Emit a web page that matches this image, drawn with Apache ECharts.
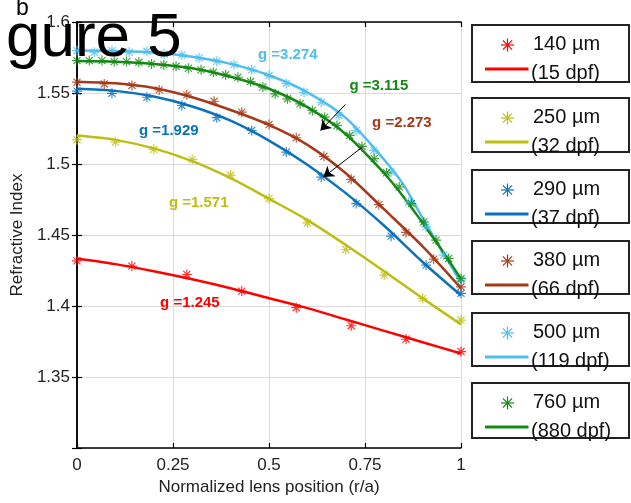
<!DOCTYPE html>
<html><head><meta charset="utf-8">
<script src="https://cdn.jsdelivr.net/npm/echarts@6/dist/echarts.min.js"></script>
<style>html,body{margin:0;padding:0;background:#fff}#c{width:631px;height:503px}</style>
</head><body><div id="c"></div>
<script>
// ---- data ----
const sizeLabels = ['140 µm', '250 µm', '290 µm', '380 µm', '500 µm', '760 µm'];
const dpfLabels  = ['(15 dpf)', '(32 dpf)', '(37 dpf)', '(66 dpf)', '(119 dpf)', '(880 dpf)'];
const gLabels    = ['g =1.245', 'g =1.571', 'g =1.929', 'g =2.273', 'g =3.274', 'g =3.115'];
const colors     = ['#FF0000', '#BDBD12', '#0A72BD', '#A53A1A', '#4DBEEE', '#138A13'];

// measured points (asterisks)
const red_mx = [0, 0.143, 0.286, 0.429, 0.571, 0.714, 0.857, 1];
const red_my = [1.4318, 1.4281, 1.4222, 1.4105, 1.3988, 1.3861, 1.3766, 1.3679];
const yel_mx = [0, 0.1, 0.2, 0.3, 0.4, 0.5, 0.6, 0.7, 0.8, 0.9, 1];
const yel_my = [1.5171, 1.5154, 1.5103, 1.5031, 1.4922, 1.4756, 1.4585, 1.4398, 1.4218, 1.4052, 1.3901];
const blu_mx = [0, 0.091, 0.182, 0.273, 0.364, 0.455, 0.545, 0.636, 0.727, 0.818, 0.909, 1];
const blu_my = [1.5513, 1.5498, 1.547, 1.5412, 1.5326, 1.5236, 1.5084, 1.4908, 1.4721, 1.4492, 1.4288, 1.4089];
const brn_mx = [0, 0.071, 0.143, 0.214, 0.286, 0.357, 0.429, 0.5, 0.571, 0.643, 0.714, 0.786, 0.857, 0.929, 1];
const brn_my = [1.5576, 1.5564, 1.5553, 1.5522, 1.5487, 1.5442, 1.5365, 1.5278, 1.5185, 1.5054, 1.4892, 1.4714, 1.4518, 1.433, 1.4135];
const cyn_mx = [0, 0.045, 0.091, 0.136, 0.182, 0.227, 0.273, 0.318, 0.364, 0.409, 0.455, 0.5, 0.545, 0.591, 0.636, 0.682, 0.727, 0.773, 0.818, 0.864, 0.909, 0.955, 1];
const cyn_my = [1.5798, 1.5787, 1.5798, 1.5787, 1.5794, 1.5775, 1.5768, 1.5747, 1.5723, 1.57, 1.5663, 1.5623, 1.5567, 1.5505, 1.5435, 1.5342, 1.5236, 1.5096, 1.4943, 1.4733, 1.4557, 1.4358, 1.4182];
const grn_mx = [0, 0.032, 0.065, 0.097, 0.129, 0.161, 0.194, 0.226, 0.258, 0.29, 0.323, 0.355, 0.387, 0.419, 0.452, 0.484, 0.516, 0.548, 0.581, 0.613, 0.645, 0.677, 0.71, 0.742, 0.774, 0.806, 0.839, 0.871, 0.903, 0.935, 0.968, 1];
const grn_my = [1.5728, 1.5728, 1.5728, 1.5721, 1.5721, 1.5716, 1.5705, 1.5698, 1.5688, 1.5674, 1.5663, 1.5646, 1.5628, 1.5611, 1.5581, 1.5542, 1.5494, 1.5459, 1.5424, 1.5377, 1.533, 1.5271, 1.5201, 1.5124, 1.5038, 1.4938, 1.4838, 1.4721, 1.4592, 1.4464, 1.4335, 1.4194];

// fitted curves
const fitX11 = [0, 0.1, 0.2, 0.3, 0.4, 0.5, 0.6, 0.7, 0.8, 0.9, 1];
const fitX13 = [0, 0.1, 0.2, 0.3, 0.4, 0.5, 0.6, 0.7, 0.8, 0.85, 0.9, 0.95, 1];
const red_fy = [1.4335, 1.4295, 1.4245, 1.4188, 1.4125, 1.4055, 1.3985, 1.3905, 1.3825, 1.3745, 1.3665];
const yel_fy = [1.520, 1.517, 1.511, 1.502, 1.490, 1.4755, 1.4605, 1.443, 1.4245, 1.4055, 1.387];
const blu_fy = [1.553, 1.5515, 1.5475, 1.5405, 1.5305, 1.5165, 1.4995, 1.4795, 1.4565, 1.431, 1.4075];
const brn_fy = [1.558, 1.5568, 1.5535, 1.547, 1.538, 1.5275, 1.5135, 1.4935, 1.468, 1.442, 1.4125];
const cyn_fy = [1.580, 1.5795, 1.5785, 1.5755, 1.5705, 1.5625, 1.5505, 1.5325, 1.503, 1.4855, 1.462, 1.439, 1.4165];
const grn_fy = [1.5725, 1.572, 1.5705, 1.5675, 1.5615, 1.553, 1.540, 1.521, 1.4935, 1.477, 1.4585, 1.4395, 1.419];

// annotation anchors (data coordinates)
const gPos = [[0.294, 1.4021], [0.317, 1.4723], [0.239, 1.5236], [0.846, 1.5293], [0.549, 1.577], [0.786, 1.5553]];
const arrows = [[[0.699, 1.5419], [0.634, 1.5236]], [[0.743, 1.5119], [0.642, 1.4908]]];

// ---- build ----
const FONT = '"Liberation Sans", Arial, Helvetica, sans-serif';
const marks = [[red_mx, red_my], [yel_mx, yel_my], [blu_mx, blu_my], [brn_mx, brn_my], [cyn_mx, cyn_my], [grn_mx, grn_my]];
const fits = [[fitX11, red_fy], [fitX11, yel_fy], [fitX11, blu_fy], [fitX11, brn_fy], [fitX13, cyn_fy], [fitX13, grn_fy]];
const zip = (a, b) => a.map((v, i) => [v, b[i]]);
const STAR = 'path://M5,0L5,10M0,5L10,5M1.46,1.46L8.54,8.54M1.46,8.54L8.54,1.46';

const series = [];
fits.forEach((f, i) => {
  const s = {
    type: 'line', name: sizeLabels[i] + ' fit', data: zip(f[0], f[1]),
    showSymbol: false, smooth: 0.3, z: 3,
    lineStyle: { color: colors[i], width: 2.5 },
    itemStyle: { color: colors[i] },
    markPoint: {
      silent: true, symbol: 'circle', symbolSize: 0, animation: false,
      label: { show: true, position: 'inside', formatter: gLabels[i], color: colors[i],
               fontSize: 15, fontWeight: 'bold', fontFamily: FONT },
      data: [{ coord: gPos[i] }]
    }
  };
  if (i === 5) {
    s.markLine = {
      silent: true, symbol: ['none', 'arrow'], symbolSize: 10, animation: false,
      lineStyle: { color: '#000', width: 1, type: 'solid' },
      label: { show: false },
      data: arrows.map(a => [{ coord: a[0] }, { coord: a[1] }])
    };
  }
  series.push(s);
});
marks.forEach((m, i) => {
  series.push({
    type: 'scatter', name: sizeLabels[i], data: zip(m[0], m[1]),
    symbol: STAR, symbolSize: 10, z: 4,
    itemStyle: { color: 'none', borderColor: colors[i], borderWidth: 1.2 }
  });
});

// legend boxes (graphic)
const boxTop = [25, 98, 170, 241, 313, 383];
const boxBot = [82, 152, 223, 294, 366, 438];
const graphic = [];
sizeLabels.forEach((lab, i) => {
  const t = boxTop[i];
  const cx = 507.5, cy = t + 20, r = 6.5, d = r * 0.707;
  const starLines = [[cx, cy - r, cx, cy + r], [cx - r, cy, cx + r, cy], [cx - d, cy - d, cx + d, cy + d], [cx - d, cy + d, cx + d, cy - d]];
  graphic.push({ type: 'rect', shape: { x: 472, y: t, width: 157, height: boxBot[i] - t },
                 style: { fill: '#fff', stroke: '#222', lineWidth: 2 }, z: 50 });
  starLines.forEach(l => graphic.push({ type: 'line', shape: { x1: l[0], y1: l[1], x2: l[2], y2: l[3] },
                 style: { stroke: colors[i], lineWidth: 1.2 }, z: 51 }));
  graphic.push({ type: 'text', style: { text: lab, x: 533, y: t + 19, font: '20px ' + FONT, fill: '#111',
                 verticalAlign: 'middle', textVerticalAlign: 'middle' }, z: 51 });
  graphic.push({ type: 'line', shape: { x1: 485, y1: t + 44, x2: 528.5, y2: t + 44 },
                 style: { stroke: colors[i], lineWidth: 3 }, z: 51 });
  graphic.push({ type: 'text', style: { text: dpfLabels[i], x: 531, y: t + 48.5, font: '20px ' + FONT, fill: '#111',
                 verticalAlign: 'middle', textVerticalAlign: 'middle' }, z: 51 });
});
graphic.push({ type: 'text', style: { text: 'b', x: 16, y: 9, font: '23px ' + FONT, fill: '#000',
               verticalAlign: 'middle', textVerticalAlign: 'middle' }, z: 99 });
graphic.push({ type: 'text', style: { text: 'gure 5', x: 6, y: 39, font: '62px ' + FONT, fill: '#000',
               verticalAlign: 'middle', textVerticalAlign: 'middle' }, z: 100 });

const axisLineStyle = { lineStyle: { color: '#000', width: 1.5 } };
const tickIn = { show: true, inside: true, length: 5, lineStyle: { color: '#000', width: 1.2 } };
const grid = { color: '#DADADA', width: 1 };

const option = {
  animation: false,
  backgroundColor: '#fff',
  grid: { left: 77, right: 170, top: 22, bottom: 55, containLabel: false },
  xAxis: [
    { type: 'value', position: 'bottom', min: 0, max: 1, interval: 0.25,
      axisLine: axisLineStyle, axisTick: tickIn,
      axisLabel: { fontSize: 17, color: '#222', margin: 9, fontFamily: FONT },
      splitLine: { show: true, lineStyle: grid },
      name: 'Normalized lens position (r/a)', nameLocation: 'middle', nameGap: 30,
      nameTextStyle: { fontSize: 17, color: '#222', fontFamily: FONT } },
    { type: 'value', position: 'top', min: 0, max: 1, interval: 0.25,
      axisLine: axisLineStyle, axisTick: tickIn, axisLabel: { show: false }, splitLine: { show: false } }
  ],
  yAxis: [
    { type: 'value', position: 'left', min: 1.3, max: 1.6, interval: 0.05,
      axisLine: { show: true, ...axisLineStyle }, axisTick: tickIn,
      axisLabel: { fontSize: 17, color: '#222', margin: 7, fontFamily: FONT,
                   formatter: v => Math.abs(v - 1.3) < 1e-6 ? '' : String(+v.toFixed(2)) },
      splitLine: { show: true, lineStyle: grid },
      name: 'Refractive Index', nameLocation: 'middle', nameGap: 43, nameRotate: 90,
      nameTextStyle: { fontSize: 17, color: '#222', fontFamily: FONT } },
    { type: 'value', position: 'right', min: 1.3, max: 1.6, interval: 0.05,
      axisLine: { show: true, ...axisLineStyle }, axisTick: tickIn, axisLabel: { show: false }, splitLine: { show: false } }
  ],
  series: series,
  graphic: graphic
};
const chart = echarts.init(document.getElementById('c'), null, { renderer: 'canvas' });
chart.setOption(option);
</script></body></html>
